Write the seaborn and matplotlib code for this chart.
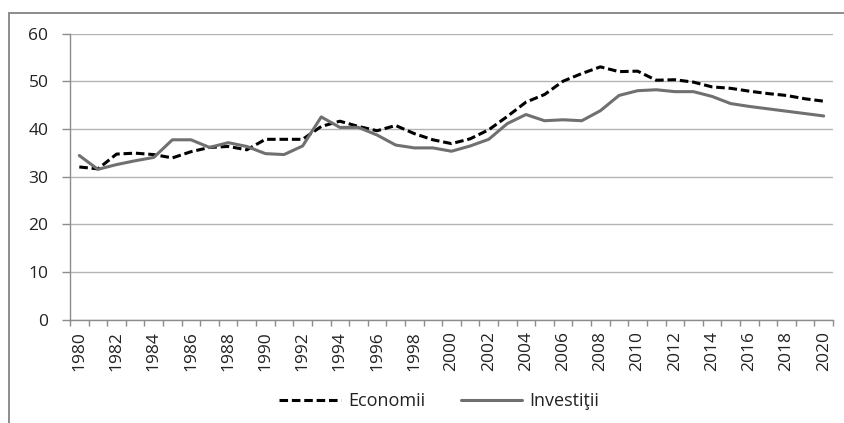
import numpy as np
import pandas as pd
import matplotlib
matplotlib.use('Agg')
import matplotlib.pyplot as plt
from matplotlib.lines import Line2D
import seaborn as sns

# Values
years = list(range(1980, 2021))
economii = [32.0, 31.6, 34.7, 34.9, 34.6, 33.9, 35.2, 36.1, 36.3, 35.6,
            37.8, 37.8, 37.8, 40.5, 41.6, 40.5, 39.6, 40.7, 39.0, 37.7,
            36.9, 37.9, 39.8, 42.6, 45.6, 47.2, 50.0, 51.6, 53.0, 52.0,
            52.1, 50.2, 50.3, 49.8, 48.8, 48.5, 47.9, 47.4, 47.0, 46.3,
            45.8]
investitii = [34.4, 31.5, 32.5, 33.3, 34.0, 37.7, 37.7, 36.1, 37.1, 36.3,
              34.8, 34.6, 36.4, 42.5, 40.3, 40.3, 38.7, 36.6, 36.0, 36.0,
              35.3, 36.4, 37.8, 41.1, 43.0, 41.7, 41.9, 41.7, 43.8, 47.0,
              48.0, 48.2, 47.8, 47.8, 46.8, 45.3, 44.7, 44.2, 43.7, 43.2,
              42.7]
series_names = ['Economii', 'Investiţii']
year_labels = [str(y) for y in years[::2]]
y_ticks = [0, 10, 20, 30, 40, 50, 60]

df = pd.DataFrame({'year': years, 'Economii': economii, 'Investiţii': investitii})

sns.set_style('white')
plt.rcParams['font.family'] = ['Open Sans', 'DejaVu Sans']

W, H = 845, 423
fig = plt.figure(figsize=(W / 100, H / 100), dpi=100)
ax = fig.add_axes([70 / W, 1 - 319.5 / H, (833 - 70) / W, (319.5 - 33.5) / H])

sns.lineplot(data=df, x='year', y='Economii', ax=ax, color='black',
             linewidth=2.2, linestyle=(0, (2.8, 1.25)), label=series_names[0])
sns.lineplot(data=df, x='year', y='Investiţii', ax=ax, color='#707070',
             linewidth=2.2, label=series_names[1])

ax.set_xlim(years[0] - 0.5, years[-1] + 0.5)
ax.set_ylim(0, 60)
ax.set_yticks(y_ticks)
ax.set_xticks(years[::2])
ax.set_xticklabels(year_labels, rotation=90)
ax.set_xticks(np.arange(years[0] - 0.5, years[-1] + 1), minor=True)
ax.set_xlabel('')
ax.set_ylabel('')

ax.grid(axis='y', color='#b4b4b4', linewidth=1.0)
ax.grid(axis='x', visible=False)
ax.set_axisbelow(True)
for side in ['top', 'right']:
    ax.spines[side].set_visible(False)
for side in ['left', 'bottom']:
    ax.spines[side].set_color('#8c8c8c')
    ax.spines[side].set_linewidth(1.0)

ax.tick_params(axis='x', which='major', length=0, pad=8.5, labelsize=12.5,
               labelcolor='#222222')
ax.tick_params(axis='x', which='minor', length=4, width=1.0, color='#8c8c8c',
               direction='out', bottom=True)
ax.tick_params(axis='y', length=5.5, width=1.0, color='#8c8c8c', pad=10,
               labelsize=12.5, labelcolor='#222222', left=True)

ax.legend(loc='center', bbox_to_anchor=(0.52, 0.052), bbox_transform=fig.transFigure,
          ncol=2, frameon=False, fontsize=13, handlelength=3.4, handletextpad=0.4,
          columnspacing=2.0, labelcolor='#222222')

# outer chart frame (left and top edges visible in the reference)
fig.add_artist(Line2D([9.3 / W, 9.3 / W], [0, 1 - 13.3 / H], color='#8c8c8c',
                      linewidth=1.4, transform=fig.transFigure))
fig.add_artist(Line2D([9.3 / W, 1], [1 - 13.3 / H, 1 - 13.3 / H], color='#8c8c8c',
                      linewidth=1.4, transform=fig.transFigure))

fig.savefig('out.png', dpi=100)
